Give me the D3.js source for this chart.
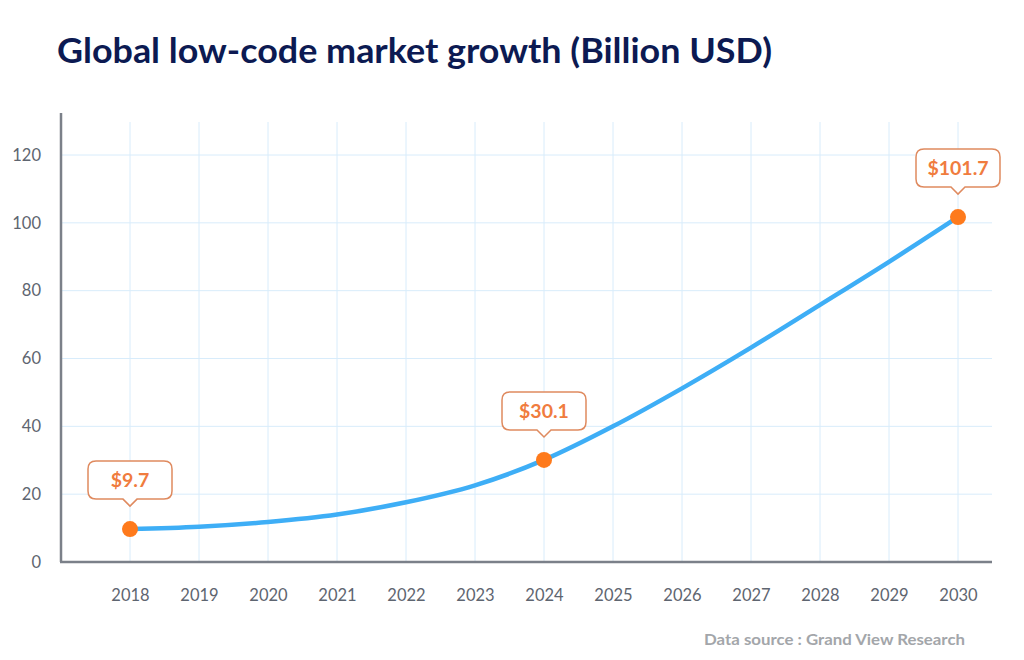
<!DOCTYPE html>
<html>
<head>
<meta charset="utf-8">
<script src="https://cdn.jsdelivr.net/npm/d3@7"></script>
<style>
  body { margin: 0; background: #fff; }
  svg text { font-family: Lato, "Open Sans", sans-serif; }
</style>
</head>
<body>
<div id="chart"></div>
<script>
// market size, billion USD
const years = [2018, 2019, 2020, 2021, 2022, 2023, 2024, 2025, 2026, 2027, 2028, 2029, 2030];
const values = [9.7, 10.4, 11.8, 14.0, 17.6, 22.6, 30.1, 40.0, 51.2, 63.2, 75.8, 88.5, 101.7];
const yTicks = [0, 20, 40, 60, 80, 100, 120];
const labelYears = [2018, 2024, 2030];
const labelTexts = ["$9.7", "$30.1", "$101.7"];

const width = 1024, height = 660;
const svg = d3.select("#chart").append("svg")
  .attr("width", width).attr("height", height);

const x = d3.scaleLinear().domain([2017, 2031]).range([61, 1027]);
const y = d3.scaleLinear().domain([0, 120]).range([562, 155]);

// title
svg.append("text")
  .attr("x", 57).attr("y", 63)
  .attr("font-size", 35).attr("font-weight", 700)
  .attr("fill", "#0c1a52")
  .attr("textLength", 715)
  .attr("lengthAdjust", "spacingAndGlyphs")
  .text("Global low-code market growth (Billion USD)");

// grid
const grid = svg.append("g").attr("stroke", "#d8ecfb").attr("stroke-width", 1);
grid.selectAll("line.v").data(years).join("line")
  .attr("x1", d => x(d)).attr("x2", d => x(d))
  .attr("y1", 122).attr("y2", y(0));
grid.selectAll("line.h").data(yTicks.slice(1)).join("line")
  .attr("x1", x(2017)).attr("x2", 992)
  .attr("y1", d => y(d)).attr("y2", d => y(d));

// axes
const yAxis = svg.append("g")
  .attr("transform", `translate(${x(2017)},0)`)
  .call(d3.axisLeft(y).tickValues(yTicks).tickSize(0).tickPadding(20));
yAxis.select(".domain").remove();
yAxis.selectAll("text").attr("font-size", 16.5).attr("fill", "#5e6570")
  .attr("font-family", "Lato, sans-serif");

const xAxis = svg.append("g")
  .attr("transform", `translate(0,${y(0)})`)
  .call(d3.axisBottom(x).tickValues(years).tickFormat(d3.format("d")).tickSize(0).tickPadding(27));
xAxis.select(".domain").remove();
xAxis.selectAll("text").attr("font-size", 16.5).attr("fill", "#5e6570")
  .attr("font-family", "Lato, sans-serif");

svg.append("line")
  .attr("x1", x(2017)).attr("x2", x(2017)).attr("y1", 113).attr("y2", y(0))
  .attr("stroke", "#7b8089").attr("stroke-width", 2.5);
svg.append("line")
  .attr("x1", x(2017) - 1).attr("x2", 992).attr("y1", y(0)).attr("y2", y(0))
  .attr("stroke", "#7b8089").attr("stroke-width", 2.5);

// curve
const data = years.map((d, i) => ({ year: d, value: values[i] }));
const line = d3.line().x(d => x(d.year)).y(d => y(d.value)).curve(d3.curveMonotoneX);
svg.append("path").datum(data)
  .attr("d", line)
  .attr("fill", "none")
  .attr("stroke", "#3eaef6")
  .attr("stroke-width", 4.5)
  .attr("stroke-linecap", "round");

// labelled points
const marks = labelYears.map((yr, i) => ({ year: yr, value: values[years.indexOf(yr)], text: labelTexts[i] }));

svg.selectAll("circle.pt").data(marks).join("circle")
  .attr("cx", d => x(d.year)).attr("cy", d => y(d.value))
  .attr("r", 8).attr("fill", "#fe7a1c");

const callout = svg.selectAll("g.callout").data(marks).join("g")
  .attr("transform", d => `translate(${x(d.year)},${y(d.value) - 23})`);

callout.each(function(d) {
  const g = d3.select(this);
  const w = 84, h = 38, r = 8, a = 7;
  const l = -w / 2, rr = w / 2, top = -h - 7, bot = -7;
  const p = `M${l + r},${top} H${rr - r} Q${rr},${top} ${rr},${top + r} V${bot - r} Q${rr},${bot} ${rr - r},${bot}`
    + ` H${a} L0,0 L${-a},${bot} H${l + r} Q${l},${bot} ${l},${bot - r} V${top + r} Q${l},${top} ${l + r},${top} Z`;
  g.append("path").attr("d", p)
    .attr("fill", "#fff").attr("stroke", "#df8a5f").attr("stroke-width", 1.5);
  g.append("text")
    .attr("x", 0).attr("y", (top + bot) / 2 + 7)
    .attr("text-anchor", "middle")
    .attr("font-size", 19.5).attr("font-weight", 700)
    .attr("fill", "#f07c3e")
    .text(d.text);
});

// source
svg.append("text")
  .attr("x", 965).attr("y", 645)
  .attr("text-anchor", "end")
  .attr("font-size", 16).attr("font-weight", 700)
  .attr("fill", "#a3a6aa")
  .attr("textLength", 261)
  .attr("lengthAdjust", "spacingAndGlyphs")
  .text("Data source : Grand View Research");
</script>
</body>
</html>
